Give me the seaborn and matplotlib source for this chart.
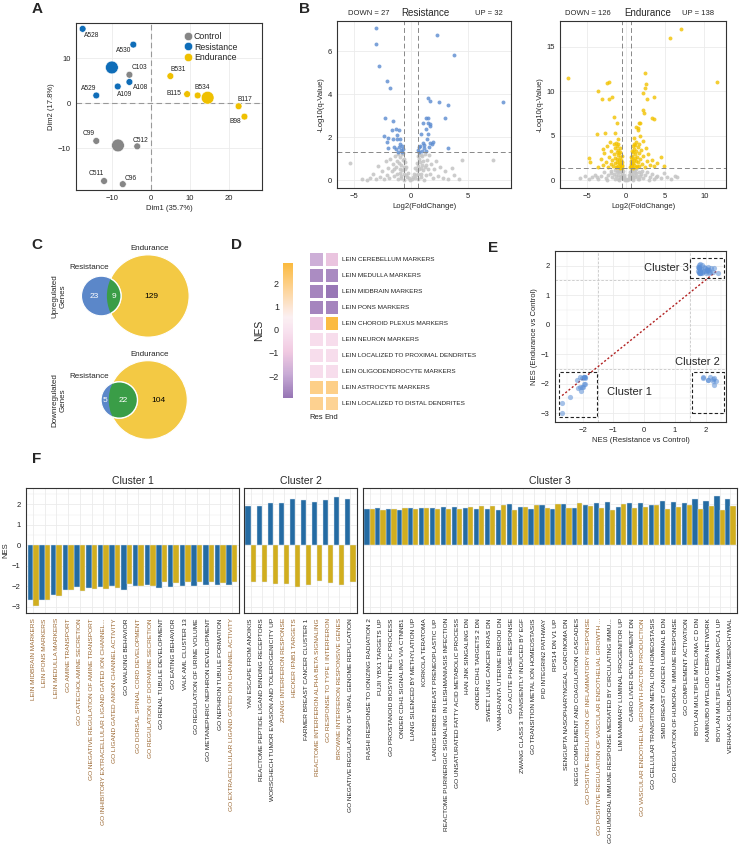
import matplotlib
matplotlib.use("Agg")
import matplotlib.pyplot as plt
from matplotlib.colors import LinearSegmentedColormap
from matplotlib.patches import Circle, Rectangle
from matplotlib.lines import Line2D
import numpy as np
import pandas as pd
import seaborn as sns

W, H = 740, 846
BLUE = "#0F6DB8"
YELLOW = "#EFC000"
GRAY = "#868686"
BROWN = "#9A6630"
GRID = "#EBEBEB"
FRAME = "#333333"

# %% panel A - PCA
samples = ["A528", "A530", "A108", "A109", "A529", "C103", "C99", "C512", "C511", "C96",
           "B531", "B115", "B534", "B117", "B98"]
sample_group = ["Resistance"] * 5 + ["Control"] * 5 + ["Endurance"] * 5
dim1 = [-17.5, -4.5, -5.5, -8.5, -14.0, -5.5, -14.0, -3.5, -12.0, -7.2, 5.0, 9.3, 12.0, 22.5, 24.0]
dim2 = [16.5, 13.0, 4.7, 3.7, 1.7, 6.3, -8.4, -9.6, -17.3, -18.0, 6.0, 2.0, 1.7, -0.7, -3.0]
# label offsets (pixels)
lab_dx = [9, -10, 11, 7, -8, 10, -8, 3, -8, 8, 8, -13, 5, 6, -9]
lab_dy = [-7, -6, -6, -8, 7, 7, 7, 6, 7, 6, 7, 1, 8, 7, -5]

# %% panel B - volcano plots
res_gray = [(-5.4, 0.78), (-4.3, 0.05), (-3.9, 0.02), (-3.6, 0.1), (-3.3, 0.3), (-3.1, 0.05), (-2.9, 0.65),
            (-2.7, 0.15), (-2.5, 0.4), (-2.4, 0.05), (-2.2, 0.9), (-2.1, 0.25), (-2.0, 0.55), (-1.9, 0.1),
            (-1.8, 1.0), (-1.7, 0.4), (-1.6, 0.75), (-1.5, 0.2), (-1.4, 1.1), (-1.3, 0.6), (-1.25, 0.9),
            (-1.2, 0.3), (-1.1, 1.2), (-1.05, 0.8), (-1.0, 0.5), (-0.95, 1.05), (-0.9, 0.2), (-0.85, 0.7),
            (-0.8, 1.2), (-0.75, 0.45), (-0.7, 0.95), (-0.68, 1.25), (-0.65, 0.6), (-0.6, 0.3), (-0.55, 0.85),
            (-0.5, 0.5), (-0.45, 0.25), (-0.4, 0.6), (-0.35, 0.15), (-0.3, 0.35), (-0.2, 0.1), (-0.1, 0.02),
            (0.1, 0.03), (0.2, 0.12), (0.3, 0.3), (0.35, 0.1), (0.4, 0.55), (0.45, 0.25), (0.5, 0.45),
            (0.55, 0.8), (0.6, 0.3), (0.65, 0.65), (0.7, 1.0), (0.72, 1.25), (0.75, 0.5), (0.8, 0.85),
            (0.85, 1.15), (0.9, 0.3), (0.95, 0.7), (1.0, 1.1), (1.05, 0.45), (1.1, 0.9), (1.2, 1.2),
            (1.25, 0.6), (1.3, 0.25), (1.4, 0.95), (1.5, 0.5), (1.6, 1.15), (1.7, 0.3), (1.8, 0.75),
            (1.9, 0.1), (2.0, 0.5), (2.2, 0.9), (2.4, 0.2), (2.6, 0.6), (2.8, 0.1), (3.0, 0.4), (3.3, 0.05),
            (3.6, 0.55), (3.8, 0.25), (4.2, 0.05), (4.5, 0.93), (7.2, 0.93),
            (-1.15, 0.05), (-0.85, 0.1), (-0.6, 0.02), (0.65, 0.05), (0.9, 0.12), (1.15, 0.02),
            (-1.45, 0.5), (-0.95, 0.35), (1.35, 0.7), (0.85, 0.55), (-0.6, 1.0), (0.6, 1.1)]
res_sig = [(-3.06, 7.07), (-3.06, 6.33), (-2.85, 5.32), (-2.06, 4.62), (-1.82, 4.29), (-2.24, 2.88),
           (-1.59, 2.76), (-2.38, 2.06), (-2.0, 1.97), (-2.12, 1.78), (-1.68, 2.33), (-1.35, 2.36),
           (-1.03, 2.33), (-1.24, 2.09), (-1.47, 1.55), (-1.24, 1.89), (-1.0, 1.89), (-1.09, 1.55),
           (-0.79, 1.58), (-0.88, 1.4), (-1.15, 1.32), (-0.76, 1.32), (-1.6, 1.9), (-0.95, 1.7),
           (-1.3, 1.45), (-0.7, 1.45), (-2.0, 1.5),
           (2.29, 6.73), (3.76, 5.8), (8.12, 3.63), (1.47, 3.8), (1.65, 3.67), (2.44, 3.63), (3.26, 3.47),
           (1.35, 2.87), (1.53, 2.87), (3.03, 2.88), (1.06, 2.64), (1.53, 2.64), (1.7, 2.6), (1.65, 2.51),
           (1.35, 2.36), (0.88, 2.12), (1.47, 2.12), (1.41, 1.89), (1.94, 1.78), (1.7, 1.74), (3.26, 1.47),
           (1.06, 1.71), (0.68, 1.55), (0.82, 1.58), (1.18, 1.47), (1.12, 1.63), (0.65, 1.4), (0.97, 1.36),
           (1.32, 1.36), (0.68, 1.32), (1.56, 1.55), (1.85, 1.67)]
end_gray = [(-5.9, 0.2), (-5.3, 0.45), (-4.8, 0.1), (-4.4, 0.3), (-4.0, 0.6), (-3.6, 0.15), (-3.2, 0.4),
            (-2.9, 0.9), (-2.6, 0.2), (-2.3, 0.55), (-2.0, 1.0), (-1.8, 0.3), (-1.6, 0.7), (-1.4, 1.1),
            (-1.3, 0.4), (-1.2, 0.85), (-1.1, 0.15), (-1.0, 0.6), (-0.9, 1.2), (-0.85, 0.35), (-0.8, 0.9),
            (-0.7, 0.5), (-0.65, 1.1), (-0.6, 0.2), (-0.55, 0.75), (-0.5, 0.45), (-0.45, 1.0), (-0.4, 0.3),
            (-0.35, 0.6), (-0.3, 0.15), (-0.25, 0.35), (-0.2, 0.08), (-0.1, 0.03), (0.1, 0.03), (0.2, 0.1),
            (0.3, 0.25), (0.35, 0.55), (0.4, 0.15), (0.45, 0.85), (0.5, 0.4), (0.55, 1.05), (0.6, 0.25),
            (0.65, 0.7), (0.7, 1.15), (0.75, 0.45), (0.8, 0.9), (0.9, 0.2), (0.95, 0.6), (1.0, 1.1),
            (1.1, 0.35), (1.2, 0.8), (1.3, 1.2), (1.4, 0.5), (1.5, 0.15), (1.6, 0.9), (1.8, 0.4), (2.0, 1.05),
            (2.2, 0.2), (2.4, 0.6), (2.7, 0.9), (3.0, 0.3), (3.3, 0.7), (3.6, 0.1), (4.0, 0.5), (4.4, 0.25),
            (4.8, 0.8), (5.2, 0.35), (5.7, 0.1), (6.3, 0.5), (6.5, 0.3),
            (-2.5, 0.05), (-1.5, 0.1), (-0.9, 0.05), (0.9, 0.05), (1.7, 0.1), (2.9, 0.05),
            (-1.9, 0.75), (-1.1, 1.0), (1.1, 0.95), (1.9, 0.7), (-3.8, 0.35), (3.8, 0.3)]
end_sig = [(7.0, 17.0), (5.57, 16.0), (11.7, 11.05), (-7.49, 11.5), (2.38, 12.06), (-3.57, 10.0),
           (-2.25, 11.0), (-2.47, 10.9), (2.55, 10.86), (2.43, 10.37), (2.21, 9.74), (2.64, 9.14),
           (3.62, 9.36), (-3.15, 9.14), (-2.25, 9.14), (-1.83, 9.36), (-1.62, 7.1), (2.21, 7.87), (2.34, 7.5),
           (3.28, 6.93), (3.62, 6.85), (1.79, 6.37), (1.49, 5.81), (-1.19, 6.37), (-3.74, 5.17),
           (-2.68, 5.32), (-4.8, 2.43), (-4.68, 2.06), (4.89, 1.61), (4.43, 2.62),
           (-0.5, 1.4), (-0.55, 1.7), (-0.6, 2.0), (-0.65, 1.5), (-0.7, 2.3), (-0.75, 1.8), (-0.8, 2.6),
           (-0.85, 1.4), (-0.9, 3.0), (-0.95, 2.2), (-1.0, 3.4), (-1.05, 1.6), (-1.1, 2.8), (-1.15, 3.8),
           (-1.2, 2.0), (-1.25, 3.2), (-1.3, 4.2), (-1.35, 1.5), (-1.4, 2.5), (-1.45, 3.6), (-1.5, 1.9),
           (-1.6, 2.9), (-1.7, 1.6), (-1.8, 2.3), (-1.9, 3.3), (-2.0, 1.8), (-2.2, 2.6), (-2.4, 1.5),
           (-2.6, 2.0), (-2.8, 3.0), (-3.0, 1.7), (-3.3, 2.4), (-3.6, 1.5), (-1.0, 4.6), (-0.9, 1.9),
           (-1.2, 1.45), (-0.7, 1.55), (-1.6, 4.0), (-2.1, 4.3), (-2.5, 3.8), (-1.4, 5.3), (-3.0, 3.5),
           (0.5, 1.45), (0.55, 1.8), (0.6, 2.1), (0.65, 1.5), (0.7, 2.4), (0.75, 1.9), (0.8, 2.7),
           (0.85, 1.4), (0.9, 3.1), (0.95, 2.3), (1.0, 3.5), (1.05, 1.7), (1.1, 2.9), (1.15, 3.9),
           (1.2, 2.1), (1.25, 3.3), (1.3, 4.3), (1.35, 1.55), (1.4, 2.6), (1.45, 3.7), (1.5, 2.0),
           (1.6, 3.0), (1.7, 1.6), (1.8, 2.4), (1.9, 3.4), (2.0, 1.8), (2.2, 2.7), (2.4, 1.5), (2.6, 2.1),
           (2.8, 2.9), (3.0, 1.7), (3.3, 2.3), (3.6, 1.6), (4.0, 1.9), (1.0, 4.7), (0.9, 1.95), (1.2, 1.5),
           (0.7, 1.6), (1.6, 4.1), (1.8, 5.0), (2.1, 4.4), (1.5, 5.6), (2.5, 3.6), (1.3, 6.0), (1.7, 6.4),
           (-0.6, 2.7), (-0.75, 3.2), (-0.85, 3.6), (-1.05, 4.1), (-1.15, 2.4), (-0.55, 1.55),
           (0.6, 2.6), (0.75, 3.3), (0.85, 3.8), (1.05, 4.0), (1.15, 2.5), (0.55, 1.6)]
deg_counts = {"Resistance": (27, 32), "Endurance": (126, 138)}
fc_cut = np.log2(1.5)
q_cut = -np.log10(0.05)

# %% panel C - venn counts (only res, shared, only end)
venn_up = (23, 9, 129)
venn_down = (5, 22, 104)

# %% panel D - heatmap
lein_terms = ["LEIN CEREBELLUM MARKERS", "LEIN MEDULLA MARKERS", "LEIN MIDBRAIN MARKERS", "LEIN PONS MARKERS",
              "LEIN CHOROID PLEXUS MARKERS", "LEIN NEURON MARKERS", "LEIN LOCALIZED TO PROXIMAL DENDRITES",
              "LEIN OLIGODENDROCYTE MARKERS", "LEIN ASTROCYTE MARKERS", "LEIN LOCALIZED TO DISTAL DENDRITES"]
lein_res = [-1.8, -2.5, -2.65, -2.65, -1.0, -0.2, -0.2, -0.2, 1.95, 1.85]
lein_end = [-1.1, -2.55, -2.9, -2.65, 2.85, -0.2, -0.2, -0.2, 1.95, 1.8]

# %% panel F - clusters
c1_terms = ["LEIN MIDBRAIN MARKERS", "LEIN PONS MARKERS", "LEIN MEDULLA MARKERS", "GO AMINE TRANSPORT",
            "GO CATECHOLAMINE SECRETION", "GO NEGATIVE REGULATION OF AMINE TRANSPORT",
            "GO INHIBITORY EXTRACELLULAR LIGAND GATED ION CHANNEL...", "GO LIGAND GATED ANION CHANNEL ACTIVITY",
            "GO WALKING BEHAVIOR", "GO DORSAL SPINAL CORD DEVELOPMENT", "GO REGULATION OF DOPAMINE SECRETION",
            "GO RENAL TUBULE DEVELOPMENT", "GO EATING BEHAVIOR", "VALK AML CLUSTER 13",
            "GO REGULATION OF URINE VOLUME", "GO METANEPHRIC NEPHRON DEVELOPMENT", "GO NEPHRON TUBULE FORMATION",
            "GO EXTRACELLULAR LIGAND GATED ION CHANNEL ACTIVITY"]
c1_res = [-2.67, -2.67, -2.41, -2.16, -2.05, -2.08, -2.03, -2.0, -2.18, -1.97, -1.93, -2.1, -2.03, -1.97,
          -1.97, -1.95, -1.92, -1.92]
c1_end = [-2.98, -2.67, -2.46, -2.16, -2.24, -2.11, -2.11, -2.1, -1.89, -2.0, -2.0, -1.77, -1.82, -1.77,
          -1.77, -1.77, -1.82, -1.77]
c1_hl = [1, 1, 1, 1, 1, 1, 1, 1, 0, 1, 1, 0, 0, 0, 0, 0, 0, 1]

c2_terms = ["YAN ESCAPE FROM ANOIKIS", "REACTOME PEPTIDE LIGAND BINDING RECEPTORS",
            "WORSCHECH TUMOR EVASION AND TOLEROGENICITY UP", "ZHANG INTERFERON RESPONSE", "HECKER IFNB1 TARGETS",
            "FARMER BREAST CANCER CLUSTER 1", "REACTOME INTERFERON ALPHA BETA SIGNALING",
            "GO RESPONSE TO TYPE I INTERFERON", "BROWNE INTERFERON RESPONSIVE GENES",
            "GO NEGATIVE REGULATION OF VIRAL GENOME REPLICATION"]
c2_res = [1.9, 1.9, 2.07, 2.08, 2.28, 2.23, 2.13, 2.23, 2.34, 2.26]
c2_end = [-1.8, -1.77, -1.87, -1.89, -2.05, -1.92, -1.76, -1.84, -1.92, -1.8]
c2_hl = [0, 0, 0, 1, 1, 0, 1, 1, 1, 0]

c3_terms = ["RASHI RESPONSE TO IONIZING RADIATION 2", "FUJII YBX1 TARGETS UP", "GO PROSTANOID BIOSYNTHETIC PROCESS",
            "ONDER CDH1 SIGNALING VIA CTNNB1", "LIANG SILENCED BY METHYLATION UP", "KORKOLA TERATOMA",
            "LANDIS ERBB2 BREAST PRENEOPLASTIC UP", "REACTOME PURINERGIC SIGNALING IN LEISHMANIASIS INFECTION",
            "GO UNSATURATED FATTY ACID METABOLIC PROCESS", "HAN JNK SINGALING DN", "ONDER CDH1 TARGETS 2 DN",
            "SWEET LUNG CANCER KRAS DN", "VANHARANTA UTERINE FIBROID DN", "GO ACUTE PHASE RESPONSE",
            "ZWANG CLASS 3 TRANSIENTLY INDUCED BY EGF", "GO TRANSITION METAL ION HOMEOSTASIS",
            "PID INTEGRIN2 PATHWAY", "RPS14 DN V1 UP", "SENGUPTA NASOPHARYNGEAL CARCINOMA DN",
            "KEGG COMPLEMENT AND COAGULATION CASCADES", "GO POSITIVE REGULATION OF INFLAMMATORY RESPONSE",
            "GO POSITIVE REGULATION OF VASCULAR ENDOTHELIAL GROWTH ...",
            "GO HUMORAL IMMUNE RESPONSE MEDIATED BY CIRCULATING IMMU...", "LIM MAMMARY LUMINAL PROGENITOR UP",
            "CAIRO LIVER DEVELOPMENT DN", "GO VASCULAR ENDOTHELIAL GROWTH FACTOR PRODUCTION",
            "GO CELLULAR TRANSITION METAL ION HOMEOSTASIS", "SMID BREAST CANCER LUMINAL B DN",
            "GO REGULATION OF HUMORAL IMMUNE RESPONSE", "GO COMPLEMENT ACTIVATION",
            "BOYLAN MULTIPLE MYELOMA C D DN", "KAMIKUBO MYELOID CEBPA NETWORK", "BOYLAN MULTIPLE MYELOMA PCA1 UP",
            "VERHAAK GLIOBLASTOMA MESENCHYMAL"]
c3_res = [1.77, 1.82, 1.77, 1.74, 1.81, 1.81, 1.82, 1.87, 1.87, 1.82, 1.79, 1.79, 1.74, 2.0, 1.85, 1.79,
          1.95, 1.77, 2.0, 1.82, 1.97, 2.05, 2.11, 1.87, 2.08, 2.05, 1.95, 2.15, 2.1, 2.06, 2.24, 2.16, 2.39, 2.26]
c3_end = [1.77, 1.74, 1.79, 1.82, 1.77, 1.81, 1.77, 1.76, 1.79, 1.87, 1.92, 1.92, 1.97, 1.74, 1.89, 1.95,
          1.82, 2.02, 1.82, 2.05, 1.92, 1.84, 1.74, 2.02, 1.84, 1.89, 1.97, 1.79, 1.87, 1.97, 1.79, 1.92, 1.74, 1.92]
c3_hl = [0] * 20 + [1, 1, 0, 0, 0, 1] + [0] * 8

fit_slope, fit_intercept = 0.84, -0.16


def box(l, t, r, b):
    return [l / W, 1 - b / H, (r - l) / W, (b - t) / H]


def bw(ax, fs=5.5, grid=True, minor=None):
    for s in ax.spines.values():
        s.set_color(FRAME)
        s.set_linewidth(0.8)
    ax.tick_params(labelsize=fs, length=2.2, width=0.6, color=FRAME, pad=1.5, labelcolor="#222222")
    if grid:
        ax.grid(True, color=GRID, lw=0.6)
        if minor is not None:
            ax.set_xticks(minor[0], minor=True)
            ax.set_yticks(minor[1], minor=True)
            ax.grid(True, which="minor", color=GRID, lw=0.35)
            ax.tick_params(which="minor", length=0)
    ax.set_axisbelow(True)


sns.set_theme(style="white")
plt.rcParams["font.family"] = ["Liberation Sans", "DejaVu Sans"]

fig = plt.figure(figsize=(W / 100, H / 100), dpi=100)

for letter, (px, py) in {"A": (37, 9), "B": (305, 9), "C": (37, 245), "D": (236, 245),
                         "E": (493, 248), "F": (37, 459)}.items():
    fig.text(px / W, 1 - py / H, letter, fontsize=11, fontweight="bold", ha="center", va="center")

# ---------------- A
pal = {"Control": GRAY, "Resistance": BLUE, "Endurance": YELLOW}
pca = pd.DataFrame({"sample": samples, "group": sample_group, "Dim1": dim1, "Dim2": dim2})
cent = pca.groupby("group", sort=False)[["Dim1", "Dim2"]].mean().reset_index()
axA = fig.add_axes(box(76, 23, 262, 190))
axA.axhline(0, color="#999999", ls=(0, (5, 3)), lw=0.8, zorder=1)
axA.axvline(0, color="#999999", ls=(0, (5, 3)), lw=0.8, zorder=1)
sns.scatterplot(data=pca, x="Dim1", y="Dim2", hue="group", palette=pal, s=24, edgecolor="white",
                linewidth=0.4, legend=False, ax=axA, zorder=3)
sns.scatterplot(data=cent, x="Dim1", y="Dim2", hue="group", palette=pal, s=85, edgecolor="white",
                linewidth=0.4, legend=False, ax=axA, zorder=3)
for i, name in enumerate(samples):
    axA.annotate(name, (dim1[i], dim2[i]), xytext=(lab_dx[i], lab_dy[i]), textcoords="offset pixels",
                 ha="center", va="center", fontsize=4.8, color="#222222")
axA.set_xlim(-19.2, 28.5)
axA.set_ylim(-19.3, 17.8)
axA.set_xticks([-10, 0, 10, 20])
axA.set_yticks([-10, 0, 10])
axA.set_xlabel("Dim1 (35.7%)", fontsize=5.5, labelpad=2)
axA.set_ylabel("Dim2 (17.8%)", fontsize=5.5, labelpad=2)
bw(axA)
handles = [Line2D([], [], ls="", marker="o", markersize=6, markerfacecolor=pal[g], markeredgecolor="white",
                  markeredgewidth=0.4, label=g) for g in ["Control", "Resistance", "Endurance"]]
axA.legend(handles=handles, loc="upper left", bbox_to_anchor=(0.54, 0.98), frameon=False, fontsize=6.3,
           handletextpad=0.1, labelspacing=0.12, borderpad=0.2, handlelength=1.2)

# ---------------- B
def volcano(ax, gray, sig, color, name, xlim, ylim, xticks, yticks, pos):
    g = pd.DataFrame(gray, columns=["lfc", "q"])
    s = pd.DataFrame(sig, columns=["lfc", "q"])
    sns.scatterplot(data=g, x="lfc", y="q", color="#C4C4C4", s=8, alpha=0.85, linewidth=0, ax=ax)
    sns.scatterplot(data=s, x="lfc", y="q", color=color, s=8, alpha=0.8, linewidth=0, ax=ax)
    for v in (-fc_cut, fc_cut):
        ax.axvline(v, color="#888888", ls=(0, (5, 3)), lw=0.7)
    ax.axhline(q_cut, color="#888888", ls=(0, (5, 3)), lw=0.7)
    ax.set_xlim(*xlim)
    ax.set_ylim(*ylim)
    ax.set_xticks(xticks)
    ax.set_yticks(yticks)
    ax.set_xlabel("Log2(FoldChange)", fontsize=5.5, labelpad=2)
    ax.set_ylabel("-Log10(q-Value)", fontsize=5.5, labelpad=2)
    bw(ax)
    down, up = deg_counts[name]
    ax.text(pos[0], 1.025, f"DOWN = {down}", transform=ax.transAxes, ha="center", va="bottom", fontsize=5.5)
    ax.text(pos[1], 1.02, name, transform=ax.transAxes, ha="center", va="bottom", fontsize=7)
    ax.text(pos[2], 1.025, f"UP = {up}", transform=ax.transAxes, ha="center", va="bottom", fontsize=5.5)


axB1 = fig.add_axes(box(337, 21, 511, 188))
volcano(axB1, res_gray, res_sig, "#5B8BD0", "Resistance", (-6.5, 8.8), (-0.37, 7.4), [-5, 0, 5],
        [0, 2, 4, 6], (0.18, 0.51, 0.87))
axB2 = fig.add_axes(box(560, 21, 726, 188))
volcano(axB2, end_gray, end_sig, "#F2C200", "Endurance", (-8.5, 12.8), (-0.9, 17.9), [-5, 0, 5, 10],
        [0, 5, 10, 15], (0.17, 0.53, 0.83))

# ---------------- C
axC = fig.add_axes(box(30, 235, 230, 445))
axC.set_xlim(30, 230)
axC.set_ylim(445, 235)
axC.axis("off")
k = 3.5  # px per sqrt(gene)


def lens_area(d, r1, r2):
    a = r1 ** 2 * np.arccos((d ** 2 + r1 ** 2 - r2 ** 2) / (2 * d * r1))
    b = r2 ** 2 * np.arccos((d ** 2 + r2 ** 2 - r1 ** 2) / (2 * d * r2))
    c = 0.5 * np.sqrt((-d + r1 + r2) * (d + r1 - r2) * (d - r1 + r2) * (d + r1 + r2))
    return a + b - c


def venn(counts, cy, row_label, res_xy):
    only_r, both, only_e = counts
    r1 = k * np.sqrt(only_r + both)
    r2 = k * np.sqrt(only_e + both)
    target = np.pi * k ** 2 * both
    lo, hi = abs(r2 - r1) + 1e-6, r1 + r2 - 1e-6
    for _ in range(60):
        mid = (lo + hi) / 2
        if lens_area(mid, r1, r2) > target:
            lo = mid
        else:
            hi = mid
    d = (lo + hi) / 2
    cx2 = 148
    cx1 = cx2 - d
    yc = Circle((cx2, cy), r2, facecolor="#F3C944", edgecolor="white", lw=0.8)
    axC.add_patch(yc)
    axC.add_patch(Circle((cx1, cy), r1, facecolor="#5B87C9", edgecolor="white", lw=0.8))
    gc = Circle((cx1, cy), r1, facecolor="#3A9D47", edgecolor="white", lw=1.0)
    axC.add_patch(gc)
    gc.set_clip_path(yc)
    axC.text(((cx1 - r1) + (cx2 - r2)) / 2, cy, str(only_r), color="white", ha="center", va="center", fontsize=6)
    axC.text(((cx2 - r2) + (cx1 + r1)) / 2, cy, str(both), color="white", ha="center", va="center", fontsize=6)
    axC.text(((cx1 + r1) + (cx2 + r2)) / 2 - 4, cy, str(only_e), color="black", ha="center", va="center",
             fontsize=6)
    axC.text(cx2 + 2, cy - r2 - 6, "Endurance", ha="center", va="center", fontsize=5.8)
    axC.text(res_xy[0], res_xy[1], "Resistance", ha="center", va="center", fontsize=5.8)
    axC.text(59, cy, row_label, rotation=90, ha="center", va="center", fontsize=5.8, linespacing=1.1)


venn(venn_up, 296, "Upregulated\nGenes", (89, 267))
venn(venn_down, 400, "Downregulated\nGenes", (89, 376))

# ---------------- D
cmap = LinearSegmentedColormap.from_list(
    "nes", [(0.0, "#9675B4"), (0.17, "#C7AAD5"), (0.34, "#F0C9E1"), (0.5, "#F8E2EF"), (0.6, "#FBF0F2"),
            (0.67, "#FCE6D6"), (0.84, "#FDCF88"), (1.0, "#FBBA3E")])
heat = pd.DataFrame({"Res": lein_res, "End": lein_end}, index=lein_terms)
axD = fig.add_axes(box(308, 251, 339, 411))
cax = fig.add_axes(box(283, 263, 293, 398))
sns.heatmap(heat, cmap=cmap, vmin=-2.95, vmax=2.9, linewidths=0.9, linecolor="white", ax=axD, cbar_ax=cax,
            xticklabels=True, yticklabels=True)
axD.yaxis.tick_right()
axD.set_yticks(np.arange(len(lein_terms)) + 0.5)
axD.set_yticklabels(lein_terms, rotation=0, fontsize=4.55, color="#222222")
axD.set_xticks([0.5, 1.5])
axD.set_xticklabels(["Res", "End"], rotation=0, fontsize=5.5, color="#222222")
axD.tick_params(length=0, pad=2)
cax.yaxis.set_ticks_position("left")
cax.yaxis.set_label_position("left")
cax.set_yticks([-2, -1, 0, 1, 2])
cax.set_yticklabels(["\u22122", "\u22121", "0", "1", "2"])
cax.tick_params(labelsize=6.5, length=0, pad=3)
cax.set_ylabel("NES", fontsize=7.5, labelpad=3)
for s in cax.spines.values():
    s.set_visible(False)

# ---------------- F / E data
frames = []
for cl, terms, r, e, hl in [(1, c1_terms, c1_res, c1_end, c1_hl), (2, c2_terms, c2_res, c2_end, c2_hl),
                            (3, c3_terms, c3_res, c3_end, c3_hl)]:
    frames.append(pd.DataFrame({"cluster": cl, "term": terms, "Resistance": r, "Endurance": e, "hl": hl}))
gs = pd.concat(frames, ignore_index=True)

# ---------------- E
axE = fig.add_axes(box(555, 251, 726, 422))
for v in (-1.5, 1.5):
    axE.axvline(v, color="#C8C8C8", ls=(0, (3, 2)), lw=0.6, zorder=1)
    axE.axhline(v, color="#C8C8C8", ls=(0, (3, 2)), lw=0.6, zorder=1)
sns.scatterplot(data=gs, x="Resistance", y="Endurance", color="#5B8FD6", alpha=0.55, s=14, linewidth=0,
                ax=axE, zorder=3)
xs = np.array([gs["Resistance"].min(), gs["Resistance"].max()])
axE.plot(xs, fit_slope * xs + fit_intercept, color="#B22222", ls=(0, (1.5, 1.5)), lw=1.0, zorder=2)
cluster_boxes = {1: (-2.78, -1.54, -3.13, -1.59), 2: (1.57, 2.61, -2.99, -1.59), 3: (1.5, 2.6, 1.58, 2.27)}
for x0, x1, y0, y1 in cluster_boxes.values():
    axE.add_patch(Rectangle((x0, y0), x1 - x0, y1 - y0, fill=False, ec="#222222", ls=(0, (3, 2)), lw=0.8,
                            zorder=4))
axE.text(1.45, 1.92, "Cluster 3", ha="right", va="center", fontsize=8)
axE.text(1.72, -1.27, "Cluster 2", ha="center", va="center", fontsize=8)
axE.text(-1.2, -2.27, "Cluster 1", ha="left", va="center", fontsize=8)
axE.set_xlim(-2.9, 2.66)
axE.set_ylim(-3.3, 2.36)
axE.set_xticks([-2, -1, 0, 1, 2])
axE.set_yticks([-3, -2, -1, 0, 1, 2])
axE.set_xlabel("NES (Resistance vs Control)", fontsize=5.5, labelpad=2)
axE.set_ylabel("NES (Endurance vs Control)", fontsize=5.5, labelpad=2)
bw(axE, minor=(np.arange(-2.5, 2.6, 1.0), np.arange(-2.5, 2.6, 1.0)))

# ---------------- F
f_boxes = {1: (26, 239), 2: (244, 357), 3: (363, 737)}
for cl, (l, r) in f_boxes.items():
    sub = gs[gs["cluster"] == cl]
    long = sub.melt(id_vars=["term"], value_vars=["Resistance", "Endurance"], var_name="group", value_name="NES")
    ax = fig.add_axes(box(l, 488, r, 613))
    sns.barplot(data=long, x="term", y="NES", hue="group", order=list(sub["term"]),
                hue_order=["Resistance", "Endurance"], palette=[BLUE, YELLOW], width=0.94, legend=False,
                edgecolor="#DDE6F0", linewidth=0.3, ax=ax)
    bw(ax)
    n = len(sub)
    ax.set_xlim(-0.6, n - 0.4)
    ax.set_ylim(-3.3, 2.8)
    ax.set_yticks([-3, -2, -1, 0, 1, 2])
    ax.set_xticks(range(n))
    ax.set_xticklabels(sub["term"], rotation=90, fontsize=4.65)
    for t, h in zip(ax.get_xticklabels(), sub["hl"]):
        t.set_color(BROWN if h else "#222222")
    ax.set_xlabel("")
    ax.grid(True, color=GRID, lw=0.6)
    ax.set_yticks(np.arange(-2.5, 2.6, 1.0), minor=True)
    ax.grid(True, which="minor", axis="y", color=GRID, lw=0.35)
    ax.tick_params(which="minor", length=0)
    ax.set_title(f"Cluster {cl}", fontsize=7.5, pad=3)
    if cl == 1:
        ax.set_ylabel("NES", fontsize=5.5, labelpad=2)
        ax.set_yticklabels(["\u22123", "\u22122", "\u22121", "0", "1", "2"])
    else:
        ax.set_ylabel("")
        ax.set_yticklabels([])

fig.savefig("out.png", dpi=100)
